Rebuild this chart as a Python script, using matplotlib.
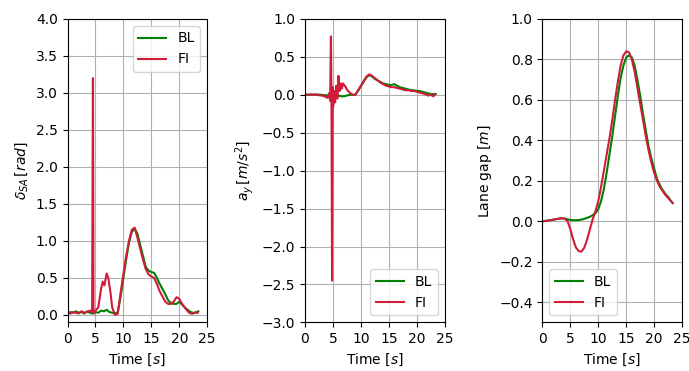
import numpy as np
import matplotlib
matplotlib.use("Agg")
import matplotlib.pyplot as plt

# steering angle (delta_SA)
t_sa_bl = [0, 0.5, 1, 1.5, 2, 2.5, 3, 3.5, 4, 4.5, 5, 5.5, 6, 6.5, 7, 7.5, 8, 8.5, 9, 9.5,
           10, 10.5, 11, 11.5, 12, 12.5, 13, 13.5, 14, 14.5, 15, 15.5, 16, 16.5, 17, 17.5,
           18, 18.5, 19, 19.5, 20, 20.5, 21, 21.5, 22, 22.5, 23, 23.4]
sa_bl = [0.02, 0.04, 0.03, 0.05, 0.03, 0.04, 0.02, 0.05, 0.03, 0.02, 0.04, 0.03, 0.06, 0.05,
         0.07, 0.04, 0.03, 0.02, 0.04, 0.25, 0.5, 0.75, 0.98, 1.12, 1.17, 1.1, 0.95, 0.8, 0.65,
         0.6, 0.58, 0.57, 0.5, 0.42, 0.35, 0.28, 0.2, 0.16, 0.15, 0.15, 0.18, 0.14, 0.1, 0.07,
         0.04, 0.03, 0.03, 0.05]
t_sa_fi = [0, 0.5, 1, 1.5, 2, 2.5, 3, 3.5, 4, 4.4, 4.55, 4.65, 4.8, 5, 5.5, 6, 6.3, 6.6, 7,
           7.3, 7.7, 8, 8.5, 9, 9.5, 10, 10.5, 11, 11.5, 12, 12.5, 13, 13.5, 14, 14.5, 15,
           15.5, 16, 16.5, 17, 17.5, 18, 18.5, 19, 19.5, 20, 20.5, 21, 21.5, 22, 22.5, 23, 23.3]
sa_fi = [0.03, 0.02, 0.04, 0.03, 0.02, 0.05, 0.03, 0.04, 0.06, 0.04, 3.2, 0.05, 0.02, 0.06,
         0.1, 0.35, 0.45, 0.4, 0.56, 0.5, 0.3, 0.1, 0.0, 0.02, 0.3, 0.55, 0.8, 1.0, 1.15, 1.18,
         1.05, 0.9, 0.75, 0.62, 0.55, 0.52, 0.5, 0.42, 0.32, 0.25, 0.18, 0.15, 0.15, 0.18, 0.24,
         0.22, 0.15, 0.1, 0.05, 0.02, 0.02, 0.04, 0.03]

# lateral acceleration (a_y)
t_ay_bl = [0, 1, 2, 3, 4, 4.5, 5, 5.5, 6, 6.5, 7, 7.5, 8, 8.5, 9, 9.5, 10, 10.5, 11, 11.5,
           12, 12.5, 13, 13.5, 14, 14.5, 15, 15.5, 16, 16.5, 17, 17.5, 18, 18.5, 19, 19.5,
           20, 20.5, 21, 21.5, 22, 22.5, 23, 23.4]
ay_bl = [0, 0, 0.005, 0, -0.01, 0.0, 0.0, 0.0, -0.01, -0.02, -0.02, -0.01, 0, 0.0, 0.0, 0.05,
         0.11, 0.17, 0.23, 0.26, 0.24, 0.21, 0.19, 0.17, 0.15, 0.14, 0.13, 0.13, 0.14, 0.12,
         0.1, 0.09, 0.08, 0.07, 0.06, 0.06, 0.05, 0.05, 0.04, 0.03, 0.02, 0.01, 0.01, 0.01]
t_ay_fi = [0, 1, 2, 3, 3.5, 4, 4.3, 4.5, 4.65, 4.75, 4.85, 4.95, 5.05, 5.2, 5.4, 5.6, 5.8,
           6.0, 6.2, 6.4, 6.6, 6.8, 7.0, 7.3, 7.6, 8.0, 8.5, 9, 9.5, 10, 10.5, 11, 11.5, 12,
           12.5, 13, 13.5, 14, 14.5, 15, 15.5, 16, 16.5, 17, 17.5, 18, 18.5, 19, 19.5, 20,
           20.5, 21, 21.5, 22, 22.5, 23, 23.3]
ay_fi = [0, 0.005, 0, -0.01, -0.02, -0.04, 0.02, -0.08, 0.77, -0.2, -2.45, 0.1, -0.15, 0.05,
         -0.1, 0.12, -0.05, 0.25, 0.05, 0.15, 0.08, 0.15, 0.13, 0.1, 0.06, 0.03, 0.0, 0.0,
         0.06, 0.12, 0.18, 0.24, 0.27, 0.25, 0.22, 0.19, 0.16, 0.14, 0.12, 0.11, 0.1, 0.1,
         0.09, 0.08, 0.07, 0.06, 0.06, 0.05, 0.05, 0.04, 0.03, 0.02, 0.01, -0.01, 0.0, -0.02, 0.01]

# lane gap
t_gap = [0, 1, 2, 3, 3.5, 4, 4.5, 5, 5.5, 6, 6.5, 7, 7.5, 8, 8.5, 9, 9.5, 10, 10.5, 11, 11.5,
         12, 12.5, 13, 13.5, 14, 14.5, 15, 15.5, 16, 16.5, 17, 17.5, 18, 18.5, 19, 19.5, 20,
         20.5, 21, 21.5, 22, 22.5, 23, 23.3]
gap_fi = [0, 0.003, 0.008, 0.013, 0.015, 0.012, 0.0, -0.04, -0.09, -0.13, -0.148, -0.15, -0.13,
          -0.09, -0.04, 0.01, 0.05, 0.1, 0.17, 0.25, 0.33, 0.41, 0.5, 0.6, 0.69, 0.77, 0.82,
          0.84, 0.835, 0.8, 0.74, 0.66, 0.58, 0.5, 0.42, 0.35, 0.29, 0.24, 0.2, 0.17, 0.15,
          0.13, 0.115, 0.1, 0.09]
gap_bl = [0, 0.003, 0.008, 0.013, 0.015, 0.013, 0.01, 0.006, 0.005, 0.005, 0.006, 0.008, 0.012,
          0.017, 0.022, 0.03, 0.04, 0.06, 0.1, 0.16, 0.24, 0.33, 0.42, 0.52, 0.62, 0.71, 0.77,
          0.81, 0.82, 0.81, 0.77, 0.7, 0.62, 0.53, 0.45, 0.37, 0.31, 0.26, 0.21, 0.18, 0.155,
          0.135, 0.12, 0.1, 0.09]

c_bl = "green"
c_fi = "#d01c3a"

fig, axs = plt.subplots(1, 3, figsize=(6.89, 3.71), dpi=100)
fig.subplots_adjust(left=0.098, right=0.99, top=0.949, bottom=0.131, wspace=0.7)

ax = axs[0]
ax.plot(t_sa_bl, sa_bl, color=c_bl, lw=1.5, label="BL")
ax.plot(t_sa_fi, sa_fi, color=c_fi, lw=1.5, label="FI")
ax.set_ylim(-0.1, 4.0)
ax.set_yticks(np.arange(0, 4.01, 0.5))
ax.set_ylabel(r"$\delta_{SA}\,[rad]$")
ax.legend(loc="upper right")

ax = axs[1]
ax.plot(t_ay_bl, ay_bl, color=c_bl, lw=1.5, label="BL")
ax.plot(t_ay_fi, ay_fi, color=c_fi, lw=1.5, label="FI")
ax.set_ylim(-3.0, 1.0)
ax.set_yticks(np.arange(-3.0, 1.01, 0.5))
ax.set_ylabel(r"$a_y\,[m/s^2]$")
ax.legend(loc="lower right")

ax = axs[2]
ax.plot(t_gap, gap_bl, color=c_bl, lw=1.5, label="BL")
ax.plot(t_gap, gap_fi, color=c_fi, lw=1.5, label="FI")
ax.set_ylim(-0.5, 1.0)
ax.set_yticks(np.arange(-0.4, 1.01, 0.2))
ax.set_ylabel(r"Lane gap $[m]$")
ax.legend(loc="lower left")

for ax in axs:
    ax.set_xlim(0, 25)
    ax.set_xticks([0, 5, 10, 15, 20, 25])
    ax.set_xlabel(r"Time $[s]$")
    ax.grid(True)

fig.savefig("out.png")
